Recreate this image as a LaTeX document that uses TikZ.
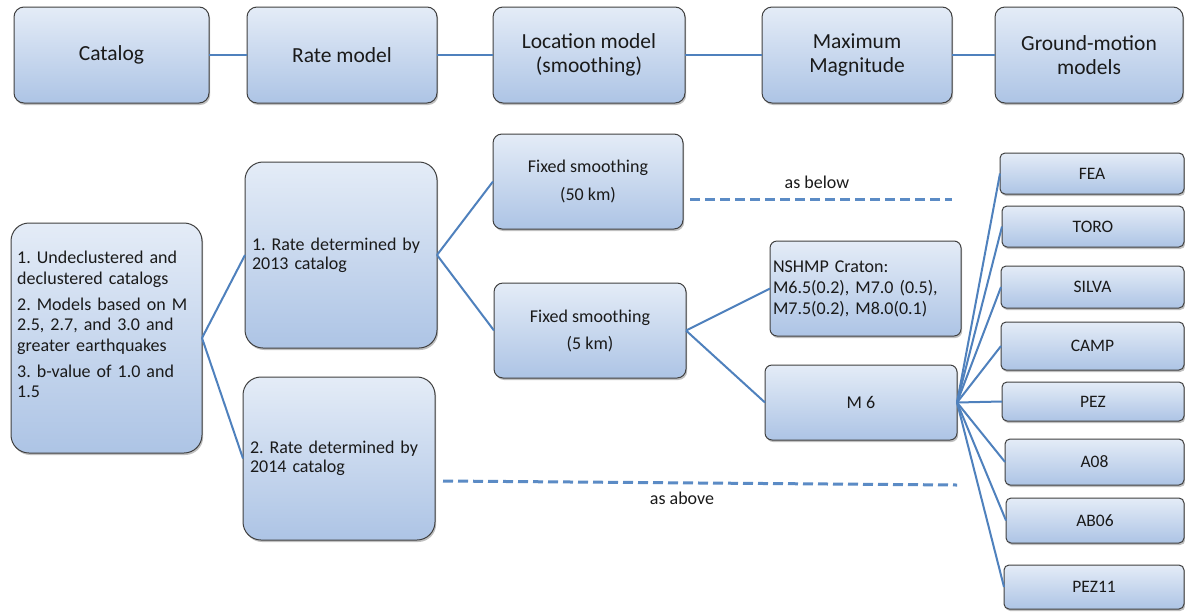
\documentclass[tikz,border=0pt]{standalone}
\usepackage{fontspec}
\setmainfont{Carlito}
\frenchspacing
\usetikzlibrary{shadows}
\definecolor{linkblue}{HTML}{4F81BD}
\definecolor{dashblue}{HTML}{5B8BC5}
\definecolor{boxtop}{HTML}{E4ECF7}
\definecolor{boxbot}{HTML}{ADC4E5}
\definecolor{boxedge}{HTML}{404040}
\definecolor{txt}{HTML}{1A1A1A}
\tikzset{
  bx/.style={draw=boxedge, line width=1pt, top color=boxtop, bottom color=boxbot,
    drop shadow={shadow xshift=1.2pt, shadow yshift=-2pt, opacity=0.35, fill=black!70},
    inner sep=0pt, outer sep=0pt, align=center, text=txt},
  topbox/.style={bx, rounded corners=10pt, minimum height=96pt,
    font=\fontsize{21.5}{24}\selectfont},
  bigbox/.style={bx, rounded corners=18pt},
  midbox/.style={bx, rounded corners=9pt, font=\fontsize{18}{21}\selectfont},
  gmbox/.style={bx, rounded corners=5pt, font=\fontsize{17.5}{20}\selectfont},
  link/.style={draw=linkblue, line width=2pt},
  dlink/.style={draw=dashblue, line width=3pt, dash pattern=on 10pt off 5pt},
  lbl/.style={font=\fontsize{18}{21}\selectfont, inner sep=0pt, text=txt}
}
\begin{document}
\begin{tikzpicture}[x=1pt, y=-1pt]
\useasboundingbox[fill=white] (0,0) rectangle (1185,611);

% top row
\node[topbox, minimum width=195pt] (tCat) at (111.5,55) {Catalog};
\node[topbox, minimum width=190pt] (tRate) at (342,55) {Rate model};
\node[topbox, minimum width=192pt] (tLoc) at (589,55) {Location model\\(smoothing)};
\node[topbox, minimum width=190pt] (tMax) at (857,55) {Maximum\\Magnitude};
\node[topbox, minimum width=188pt] (tGM) at (1089,55) {Ground-motion\\models};
\draw[link] (tCat.east) -- (tRate.west);
\draw[link] (tRate.east) -- (tLoc.west);
\draw[link] (tLoc.east) -- (tMax.west);
\draw[link] (tMax.east) -- (tGM.west);

% catalog detail
\node[bigbox, minimum width=191pt, minimum height=230pt] (cat) at (106.5,338) {};
\node[anchor=north west, align=left, text width=185pt, inner sep=0pt, text=txt,
  font=\fontsize{18}{20.7}\selectfont] (catT) at (17,251)
  {1. Undeclustered and\\declustered catalogs\\[5pt]2. Models based on M\\2.5, 2.7, and 3.0 and\\greater earthquakes\\[5pt]3. b-value of 1.0 and\\1.5};

% rate boxes
\node[bigbox, minimum width=192pt, minimum height=186pt, text width=178pt, align=left,
  font=\fontsize{18}{19}\selectfont] (r13) at (341,255) {1. Rate determined by\\2013 catalog};
\node[bigbox, minimum width=192pt, minimum height=163pt, text width=178pt, align=left,
  font=\fontsize{18}{19}\selectfont] (r14) at (339,458.5) {2. Rate determined by\\2014 catalog};

% smoothing
\node[midbox, minimum width=190pt, minimum height=95pt] (fs50) at (588,181.5) {Fixed smoothing\\[7pt](50 km)};
\node[midbox, minimum width=192pt, minimum height=95pt] (fs5) at (590,330.5) {Fixed smoothing\\[6pt](5 km)};

% magnitude
\node[midbox, rounded corners=7pt, minimum width=191pt, minimum height=95pt, text width=185pt, align=left] (ns) at (865.5,288.5)
  {NSHMP Craton:\\M6.5(0.2), M7.0 (0.5),\\M7.5(0.2), M8.0(0.1)};
\node[midbox, rounded corners=7pt, minimum width=192pt, minimum height=75pt] (m6) at (861,402.5) {M 6};

% ground motion models
\node[gmbox, minimum width=184pt, minimum height=41pt] (fea) at (1092,173.5) {FEA};
\node[gmbox, minimum width=182pt, minimum height=41pt] (toro) at (1093,226.5) {TORO};
\node[gmbox, minimum width=183pt, minimum height=42pt] (silva) at (1092.5,287) {SILVA};
\node[gmbox, minimum width=183pt, minimum height=48pt] (camp) at (1092.5,346) {CAMP};
\node[gmbox, minimum width=182pt, minimum height=39pt] (pez) at (1093,401.5) {PEZ};
\node[gmbox, minimum width=179pt, minimum height=46pt] (a08) at (1094.5,462) {A08};
\node[gmbox, minimum width=178pt, minimum height=45pt] (ab06) at (1095,520.5) {AB06};
\node[gmbox, minimum width=180pt, minimum height=44pt] (pez11) at (1094,587) {PEZ11};

% connectors
\draw[link] (cat.east) -- (r13.west);
\draw[link] (cat.east) -- (r14.west);
\draw[link] (r13.east) -- (fs50.west);
\draw[link] (r13.east) -- (fs5.west);
\draw[link] (fs5.east) -- (ns.west);
\draw[link] (fs5.east) -- (m6.west);
\foreach \g in {fea,toro,silva,camp,pez,a08,ab06,pez11}
  \draw[link] (m6.east) -- (\g.west);

% dashed
\coordinate (d1a) at (690,199);
\coordinate (d1b) at (952,199);
\coordinate (d2a) at (443,481);
\coordinate (d2b) at (957,485);
\draw[dlink] (d1a) -- (d1b);
\draw[dlink] (d2a) -- (d2b);
\node[lbl] (asbelow) at (817,182) {as below};
\node[lbl] (asabove) at (682,498) {as above};
\end{tikzpicture}
\end{document}
